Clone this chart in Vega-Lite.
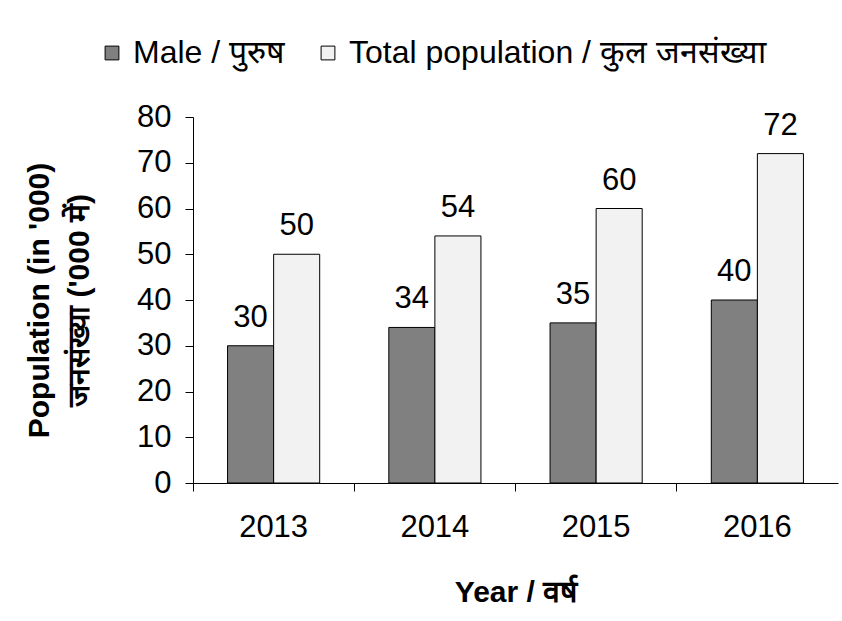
{
  "$schema": "https://vega.github.io/schema/vega-lite/v6.json",
  "width": 645,
  "height": 366,
  "autosize": {"type": "none"},
  "padding": {"left": 193, "top": 117, "right": 4, "bottom": 138},
  "background": "white",
  "config": {
    "font": "Liberation Sans",
    "view": {"stroke": null},
    "axis": {"domainColor": "black", "tickColor": "black", "labelColor": "black", "titleColor": "black", "grid": false, "labelFont": "Liberation Sans", "titleFont": "Liberation Sans"}
  },
  "data": {
    "values": [
      {"year": "2013", "series": "Male / पुरुष", "value": 30},
      {"year": "2013", "series": "Total population / कुल जनसंख्या", "value": 50},
      {"year": "2014", "series": "Male / पुरुष", "value": 34},
      {"year": "2014", "series": "Total population / कुल जनसंख्या", "value": 54},
      {"year": "2015", "series": "Male / पुरुष", "value": 35},
      {"year": "2015", "series": "Total population / कुल जनसंख्या", "value": 60},
      {"year": "2016", "series": "Male / पुरुष", "value": 40},
      {"year": "2016", "series": "Total population / कुल जनसंख्या", "value": 72}
    ]
  },
  "encoding": {
    "x": {
      "field": "year", "type": "nominal",
      "scale": {"paddingInner": 0, "paddingOuter": 0},
      "axis": {"title": "Year / वर्ष", "labelAngle": 0, "bandPosition": 0, "tickSize": 8, "labelFontSize": 31, "labelPadding": 21, "titleFontSize": 30, "titleFontWeight": "bold", "titlePadding": 35}
    },
    "xOffset": {"field": "series", "type": "nominal", "scale": {"paddingInner": 0, "paddingOuter": 0.75}},
    "y": {
      "field": "value", "type": "quantitative",
      "scale": {"domain": [0, 80]},
      "axis": {"title": ["Population (in '000)", "जनसंख्या ('000 में)"], "values": [0,10,20,30,40,50,60,70,80], "tickSize": 8, "labelFontSize": 31, "labelPadding": 14, "titleFontSize": 30, "titleFontWeight": "bold", "titlePadding": 42, "titleLineHeight": 40}
    }
  },
  "layer": [
    {
      "mark": {"type": "bar", "stroke": "black", "strokeWidth": 1},
      "encoding": {
        "color": {
          "field": "series", "type": "nominal",
          "scale": {"range": ["#808080", "#f2f2f2"]},
          "legend": {"title": null, "orient": "none", "legendX": -97, "legendY": -80, "direction": "horizontal", "symbolType": "square", "symbolSize": 190, "symbolStrokeColor": "black", "symbolStrokeWidth": 1, "labelFontSize": 32, "labelColor": "black", "labelLimit": 600, "columnPadding": 26, "labelOffset": 5}
        }
      }
    },
    {
      "mark": {"type": "text", "dy": -19, "baseline": "alphabetic", "fontSize": 31, "color": "black"},
      "encoding": {"text": {"field": "value", "type": "quantitative"}}
    }
  ]
}
